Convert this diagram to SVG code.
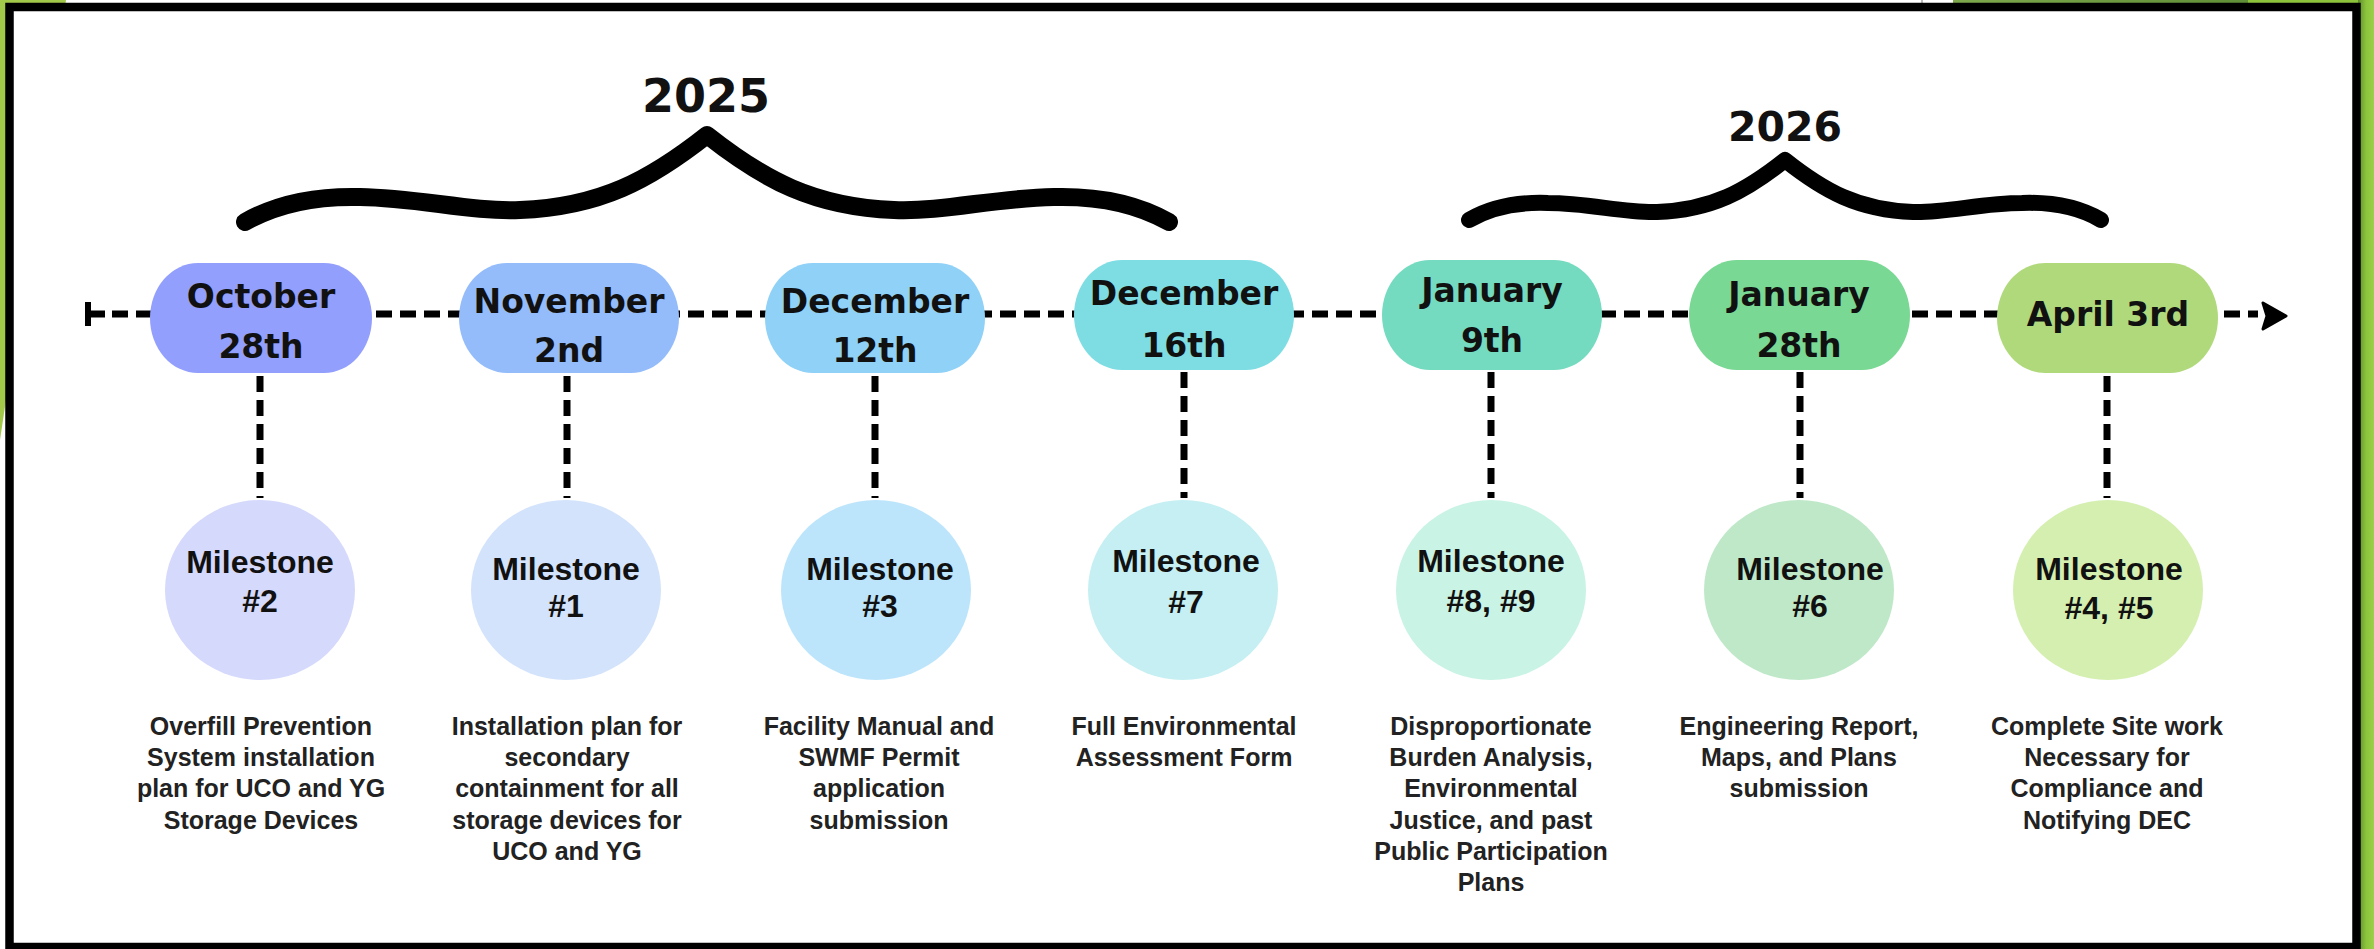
<svg xmlns="http://www.w3.org/2000/svg" width="2374" height="949" viewBox="0 0 2374 949">
  <style>
    .date { font-family: "DejaVu Sans", "Liberation Sans", sans-serif; font-weight: bold; font-size: 33px; fill: #111; text-anchor: middle; }
    .year { font-family: "DejaVu Sans", "Liberation Sans", sans-serif; font-weight: bold; fill: #111; text-anchor: middle; }
    .ms { font-family: "Liberation Sans", Arial, sans-serif; font-weight: bold; font-size: 32px; fill: #111; text-anchor: middle; }
    .desc { font-family: "Liberation Sans", Arial, sans-serif; font-weight: bold; font-size: 25px; fill: #222; text-anchor: middle; }
    .dash { fill: none; stroke: #000; stroke-width: 7; stroke-dasharray: 16 8; }
    .brace { fill: none; stroke: #000; stroke-linecap: round; stroke-linejoin: round; }
  </style>
  <defs>
    <linearGradient id="olive" x1="0" y1="0" x2="1" y2="0">
      <stop offset="0" stop-color="#7ea84c"/>
      <stop offset="1" stop-color="#5f8f38"/>
    </linearGradient>
    <linearGradient id="rgreen" x1="0" y1="0" x2="1" y2="0">
      <stop offset="0" stop-color="#5c8a2c"/>
      <stop offset="0.5" stop-color="#8cc43c"/>
      <stop offset="1" stop-color="#9bd04a"/>
    </linearGradient>
  </defs>

  <!-- background -->
  <rect x="0" y="0" width="2374" height="949" fill="#ffffff"/>
  <polygon points="0,0 66,0 0,440" fill="#a3c94a"/>
  <rect x="1953" y="0" width="300" height="5" fill="url(#olive)"/>
  <rect x="2248" y="0" width="126" height="5" fill="#8cc43c"/>
  <rect x="2358" y="0" width="16" height="949" fill="url(#rgreen)"/>
  <line x1="1922" y1="0" x2="1922" y2="4" stroke="#bbbbbb" stroke-width="2"/>
  <rect x="9.5" y="7" width="2347" height="940" fill="#ffffff" stroke="#000" stroke-width="8.5"/>

  <!-- year braces -->
  <g id="year-2025">
    <path class="brace" stroke-width="18" d="M245,222 C280,202 320,196 360,197 C420,198 470,212 520,210 C600,207 650,180 707,135 C764,180 814,207 894,210 C944,212 994,198 1054,197 C1094,196 1134,202 1169,222"/>
    <text class="year" x="706" y="112" font-size="46">2025</text>
  </g>
  <g id="year-2026">
    <path class="brace" stroke-width="16" d="M1469,220 C1493,206 1521,202 1548,203 C1589,203 1623,213 1657,212 C1712,210 1746,191 1785,160 C1824,191 1858,210 1913,212 C1947,213 1981,203 2022,203 C2049,202 2077,206 2101,220"/>
    <text class="year" x="1785" y="141" font-size="41">2026</text>
  </g>

  <!-- connectors -->
  <g id="connectors">
    <line x1="88" y1="302" x2="88" y2="326" stroke="#000" stroke-width="6"/>
    <line x1="88" y1="314" x2="105" y2="314" stroke="#000" stroke-width="7"/>
    <line class="dash" x1="112" y1="314" x2="2258" y2="314"/>
    <path d="M2263,303 L2286,316 L2263,329 L2267,316 Z" fill="#000" stroke="#000" stroke-width="3" stroke-linejoin="round"/>
    <line class="dash" x1="260" y1="376" x2="260" y2="498"/>
    <line class="dash" x1="567" y1="376" x2="567" y2="498"/>
    <line class="dash" x1="875" y1="376" x2="875" y2="498"/>
    <line class="dash" x1="1184" y1="372" x2="1184" y2="498"/>
    <line class="dash" x1="1491" y1="372" x2="1491" y2="498"/>
    <line class="dash" x1="1800" y1="372" x2="1800" y2="498"/>
    <line class="dash" x1="2107" y1="376" x2="2107" y2="498"/>
  </g>

  <!-- date nodes -->
  <g id="date-oct28">
    <rect x="150" y="263" width="222" height="110" rx="48" ry="55" fill="#939ffc"/>
    <text class="date" x="261" y="308">October</text>
    <text class="date" x="261" y="358">28th</text>
  </g>
  <g id="date-nov2">
    <rect x="459" y="263" width="220" height="110" rx="48" ry="55" fill="#94bcfb"/>
    <text class="date" x="569" y="313">November</text>
    <text class="date" x="569" y="362">2nd</text>
  </g>
  <g id="date-dec12">
    <rect x="765" y="263" width="220" height="110" rx="48" ry="55" fill="#8fd1f7"/>
    <text class="date" x="875" y="313">December</text>
    <text class="date" x="875" y="362">12th</text>
  </g>
  <g id="date-dec16">
    <rect x="1074" y="260" width="220" height="110" rx="48" ry="55" fill="#7edde3"/>
    <text class="date" x="1184" y="305">December</text>
    <text class="date" x="1184" y="357">16th</text>
  </g>
  <g id="date-jan9">
    <rect x="1382" y="260" width="220" height="110" rx="48" ry="55" fill="#74dbc0"/>
    <text class="date" x="1492" y="302">January</text>
    <text class="date" x="1492" y="352">9th</text>
  </g>
  <g id="date-jan28">
    <rect x="1689" y="260" width="221" height="110" rx="48" ry="55" fill="#79d893"/>
    <text class="date" x="1799" y="306">January</text>
    <text class="date" x="1799" y="357">28th</text>
  </g>
  <g id="date-apr3">
    <rect x="1997" y="263" width="221" height="110" rx="48" ry="55" fill="#b0d97c"/>
    <text class="date" x="2108" y="326">April 3rd</text>
  </g>

  <!-- milestone nodes -->
  <g id="milestone-2">
    <ellipse cx="260" cy="590" rx="95" ry="90" fill="#d5d9fc"/>
    <text class="ms" x="260" y="573">Milestone</text>
    <text class="ms" x="260" y="612">#2</text>
    <text class="desc" x="261" y="735">Overfill Prevention</text>
    <text class="desc" x="261" y="766">System installation</text>
    <text class="desc" x="261" y="797">plan for UCO and YG</text>
    <text class="desc" x="261" y="829">Storage Devices</text>
  </g>
  <g id="milestone-1">
    <ellipse cx="566" cy="590" rx="95" ry="90" fill="#d3e3fc"/>
    <text class="ms" x="566" y="580">Milestone</text>
    <text class="ms" x="566" y="617">#1</text>
    <text class="desc" x="567" y="735">Installation plan for</text>
    <text class="desc" x="567" y="766">secondary</text>
    <text class="desc" x="567" y="797">containment for all</text>
    <text class="desc" x="567" y="829">storage devices for</text>
    <text class="desc" x="567" y="860">UCO and YG</text>
  </g>
  <g id="milestone-3">
    <ellipse cx="876" cy="590" rx="95" ry="90" fill="#bce5fc"/>
    <text class="ms" x="880" y="580">Milestone</text>
    <text class="ms" x="880" y="617">#3</text>
    <text class="desc" x="879" y="735">Facility Manual and</text>
    <text class="desc" x="879" y="766">SWMF Permit</text>
    <text class="desc" x="879" y="797">application</text>
    <text class="desc" x="879" y="829">submission</text>
  </g>
  <g id="milestone-7">
    <ellipse cx="1183" cy="590" rx="95" ry="90" fill="#c5eff2"/>
    <text class="ms" x="1186" y="572">Milestone</text>
    <text class="ms" x="1186" y="613">#7</text>
    <text class="desc" x="1184" y="735">Full Environmental</text>
    <text class="desc" x="1184" y="766">Assessment Form</text>
  </g>
  <g id="milestone-8-9">
    <ellipse cx="1491" cy="590" rx="95" ry="90" fill="#c9f3e5"/>
    <text class="ms" x="1491" y="572">Milestone</text>
    <text class="ms" x="1491" y="612">#8, #9</text>
    <text class="desc" x="1491" y="735">Disproportionate</text>
    <text class="desc" x="1491" y="766">Burden Analysis,</text>
    <text class="desc" x="1491" y="797">Environmental</text>
    <text class="desc" x="1491" y="829">Justice, and past</text>
    <text class="desc" x="1491" y="860">Public Participation</text>
    <text class="desc" x="1491" y="891">Plans</text>
  </g>
  <g id="milestone-6">
    <ellipse cx="1799" cy="590" rx="95" ry="90" fill="#bfe8c9"/>
    <text class="ms" x="1810" y="580">Milestone</text>
    <text class="ms" x="1810" y="617">#6</text>
    <text class="desc" x="1799" y="735">Engineering Report,</text>
    <text class="desc" x="1799" y="766">Maps, and Plans</text>
    <text class="desc" x="1799" y="797">submission</text>
  </g>
  <g id="milestone-4-5">
    <ellipse cx="2108" cy="590" rx="95" ry="90" fill="#d4efb0"/>
    <text class="ms" x="2109" y="580">Milestone</text>
    <text class="ms" x="2109" y="619">#4, #5</text>
    <text class="desc" x="2107" y="735">Complete Site work</text>
    <text class="desc" x="2107" y="766">Necessary for</text>
    <text class="desc" x="2107" y="797">Compliance and</text>
    <text class="desc" x="2107" y="829">Notifying DEC</text>
  </g>
</svg>
